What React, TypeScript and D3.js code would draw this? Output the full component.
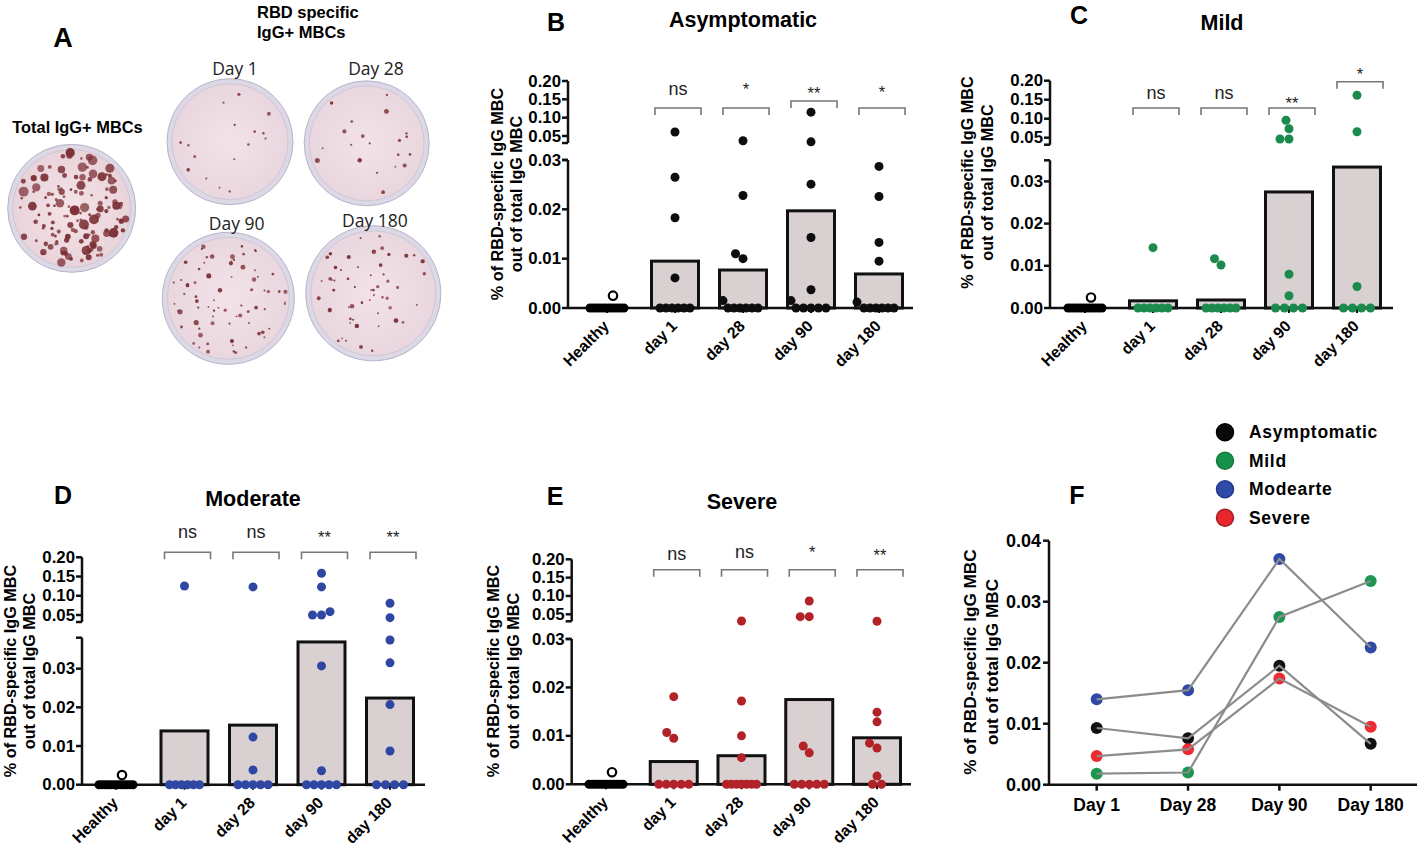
import React from 'react'
import * as d3 from 'd3'

// ---- data ----
const groups = ['Healthy', 'day 1', 'day 28', 'day 90', 'day 180']
const healthyPoints = [0, 0, 0, 0, 0, 0, 0, 0, 0, 0, 0, 0]
const healthyOpen = 0.0025

const lowerTicks = [0, 0.01, 0.02, 0.03]
const upperTicks = [0.05, 0.1, 0.15, 0.2]

const asymBars = [0, 0.0095, 0.0077, 0.0197, 0.0069]
const asymPoints = [
  healthyPoints,
  [0.061, 0.0265, 0.0183, 0.0061, 0, 0, 0, 0, 0, 0],
  [0.037, 0.0228, 0.011, 0.01, 0.0015, 0, 0, 0, 0, 0, 0],
  [0.115, 0.034, 0.0251, 0.0143, 0.0037, 0.0015, 0, 0, 0, 0, 0],
  [0.0287, 0.0226, 0.0133, 0.0095, 0.0012, 0, 0, 0, 0, 0, 0]
]
const asymSig = ['ns', '*', '**', '*']

const mildBars = [0, 0.0017, 0.0019, 0.0275, 0.0334]
const mildPoints = [
  healthyPoints,
  [0.0143, 0, 0, 0, 0, 0, 0],
  [0.0117, 0.0102, 0, 0, 0, 0, 0, 0],
  [0.0958, 0.0737, 0.0466, 0.0466, 0.008, 0.0029, 0, 0, 0, 0],
  [0.1616, 0.0658, 0.0051, 0, 0, 0, 0]
]
const mildSig = ['ns', 'ns', '**', '*']

const modBars = [0, 0.0139, 0.0154, 0.0369, 0.0224]
const modPoints = [
  healthyPoints,
  [0.1255, 0, 0, 0, 0, 0, 0],
  [0.123, 0.0123, 0.0038, 0, 0, 0, 0, 0],
  [0.1586, 0.123, 0.0586, 0.05, 0.05, 0.0307, 0.0036, 0, 0, 0, 0, 0],
  [0.0805, 0.043, 0.0374, 0.0315, 0.0207, 0.0087, 0, 0, 0, 0]
]
const modSig = ['ns', 'ns', '**', '**']

const sevBars = [0, 0.0047, 0.0059, 0.0175, 0.0096]
const sevPoints = [
  healthyPoints,
  [0.0181, 0.0107, 0.0095, 0, 0, 0, 0, 0],
  [0.0317, 0.0172, 0.01, 0.0055, 0, 0, 0, 0, 0, 0, 0],
  [0.0863, 0.0435, 0.0435, 0.0079, 0.0065, 0, 0, 0, 0, 0],
  [0.031, 0.0149, 0.0129, 0.0085, 0.0075, 0.0017, 0, 0]
]
const sevSig = ['ns', 'ns', '*', '**']

const fDays = ['Day 1', 'Day 28', 'Day 90', 'Day 180']
const fTicks = [0, 0.01, 0.02, 0.03, 0.04]
const fAsym = [0.0093, 0.0076, 0.0195, 0.0067]
const fMild = [0.0018, 0.002, 0.0275, 0.0334]
const fMod = [0.014, 0.0155, 0.037, 0.0225]
const fSev = [0.0047, 0.0058, 0.0174, 0.0095]
const fNames = ['Asymptomatic', 'Mild', 'Modearte', 'Severe']

const FONT = '"Liberation Sans", Arial, sans-serif'
const AXIS = '#111'
const BAR_FILL = '#d9d1d1'

// simple dot swarm, zeros in a packed row, others dodge sideways
function swarm(values: number[], cx: number, yOf: (v: number) => number, r: number, zeroSpan: number) {
  const zeros = values.filter(v => v === 0)
  const rest = values.filter(v => v > 0).sort((a, b) => a - b)
  const placed: { x: number; y: number }[] = []
  const n = zeros.length
  const sp = n > 1 ? Math.min(2 * r, zeroSpan / (n - 1)) : 0
  zeros.forEach((_, i) => placed.push({ x: cx + (i - (n - 1) / 2) * sp, y: yOf(0) }))
  const dmin = 2 * r * 0.98
  rest.forEach(v => {
    const y = yOf(v)
    for (let k = 0; k < 400; k++) {
      const off = (k % 2 === 1 ? -1 : 1) * Math.ceil(k / 2) * 0.5
      const x = cx + off
      if (placed.every(p => (p.x - x) ** 2 + (p.y - y) ** 2 >= dmin * dmin)) {
        placed.push({ x, y })
        break
      }
    }
  })
  return placed
}

interface PanelCfg {
  letter: string
  letterPos: [number, number]
  title: string
  titlePos: [number, number]
  xRange: [number, number]
  axisX: number
  axisEnd: number
  y0: number
  lowTop: number
  lowMax: number
  y05: number
  y20: number
  bracketY: number[]
  sigY: number[]
  yLabelX: [number, number]
  yLabelCy: number
  color: string
  bars: number[]
  points: number[][]
  sig: string[]
}

const BarPanel: React.FC<{ cfg: PanelCfg }> = ({ cfg }) => {
  const x = d3.scalePoint<string>().domain(groups).range(cfg.xRange)
  const low = d3.scaleLinear().domain([0, cfg.lowMax]).range([cfg.y0, cfg.lowTop])
  const up = d3.scaleLinear().domain([0.05, 0.2]).range([cfg.y05, cfg.y20])
  const yOf = (v: number) => (v <= cfg.lowMax ? low(v) : up(v))
  const breakY = cfg.y05 + 7
  const r = 4.5
  const barW = 47

  return (
    <g fontFamily={FONT}>
      <text x={cfg.letterPos[0]} y={cfg.letterPos[1]} fontSize={25} fontWeight="bold" textAnchor="middle" dominantBaseline="central">{cfg.letter}</text>
      <text x={cfg.titlePos[0]} y={cfg.titlePos[1]} fontSize={21.5} fontWeight="bold" textAnchor="middle" dominantBaseline="central">{cfg.title}</text>

      {/* y label */}
      <text transform={`translate(${cfg.yLabelX[0]},${cfg.yLabelCy}) rotate(-90)`} fontSize={16.2} fontWeight="bold" textAnchor="middle" dominantBaseline="central">% of RBD-specific IgG MBC</text>
      <text transform={`translate(${cfg.yLabelX[1]},${cfg.yLabelCy}) rotate(-90)`} fontSize={16.2} fontWeight="bold" textAnchor="middle" dominantBaseline="central">out of total IgG MBC</text>

      {/* bars */}
      {groups.map((g, i) => i > 0 && (
        <rect key={g} x={x(g)! - barW / 2} y={low(cfg.bars[i])} width={barW} height={cfg.y0 - low(cfg.bars[i])}
          fill={BAR_FILL} stroke={AXIS} strokeWidth={3} />
      ))}

      {/* axes */}
      <line x1={cfg.axisX} x2={cfg.axisX} y1={cfg.y0} y2={cfg.lowTop} stroke={AXIS} strokeWidth={2.5} />
      <line x1={cfg.axisX - 6} x2={cfg.axisX} y1={cfg.lowTop} y2={cfg.lowTop} stroke={AXIS} strokeWidth={2.5} />
      <line x1={cfg.axisX} x2={cfg.axisX} y1={breakY} y2={cfg.y20} stroke={AXIS} strokeWidth={2.5} />
      <line x1={cfg.axisX - 6} x2={cfg.axisX} y1={breakY} y2={breakY} stroke={AXIS} strokeWidth={2.5} />
      {lowerTicks.map(t => (
        <g key={'l' + t}>
          <line x1={cfg.axisX - 6} x2={cfg.axisX} y1={low(t)} y2={low(t)} stroke={AXIS} strokeWidth={2.5} />
          <text x={cfg.axisX - 7} y={low(t)} fontSize={16.8} fontWeight="bold" textAnchor="end" dominantBaseline="central">{t.toFixed(2)}</text>
        </g>
      ))}
      {upperTicks.map(t => (
        <g key={'u' + t}>
          <line x1={cfg.axisX - 6} x2={cfg.axisX} y1={up(t)} y2={up(t)} stroke={AXIS} strokeWidth={2.5} />
          <text x={cfg.axisX - 7} y={up(t)} fontSize={16.8} fontWeight="bold" textAnchor="end" dominantBaseline="central">{t.toFixed(2)}</text>
        </g>
      ))}
      <line x1={cfg.axisX} x2={cfg.axisEnd} y1={cfg.y0} y2={cfg.y0} stroke={AXIS} strokeWidth={2.5} />
      {groups.map(g => (
        <g key={'x' + g}>
          <line x1={x(g)} x2={x(g)} y1={cfg.y0} y2={cfg.y0 + 5} stroke={AXIS} strokeWidth={2} />
          <text transform={`translate(${x(g)! + 3},${cfg.y0 + 19}) rotate(-45)`} fontSize={15.8} fontWeight="bold" textAnchor="end">{g}</text>
        </g>
      ))}

      {/* points */}
      {groups.map((g, i) => {
        const pts = swarm(cfg.points[i], x(g)!, yOf, r, i === 0 ? 34 : 30)
        const fill = i === 0 ? '#000' : cfg.color
        return (
          <g key={'p' + g}>
            {pts.map((p, j) => <circle key={j} cx={p.x} cy={p.y} r={r} fill={fill} />)}
          </g>
        )
      })}
      <circle cx={x('Healthy')! + 6} cy={low(healthyOpen)} r={4.2} fill="#fff" stroke="#000" strokeWidth={2.2} />

      {/* significance brackets */}
      {groups.slice(1).map((g, i) => {
        const cx = x(g)! + 3
        const by = cfg.bracketY[i]
        const s = cfg.sig[i]
        const base = s === 'ns' ? cfg.sigY[i] + 5 : cfg.sigY[i] + 9.5
        return (
          <g key={'s' + g}>
            <path d={`M${cx - 23},${by + 7}V${by}H${cx + 23}V${by + 7}`} fill="none" stroke="#777" strokeWidth={1.6} />
            <text x={cx} y={base} fontSize={s === 'ns' ? 18 : 16.5} textAnchor="middle" fill="#222">{s}</text>
          </g>
        )
      })}
    </g>
  )
}

const panels: PanelCfg[] = [
  {
    letter: 'B', letterPos: [556, 22], title: 'Asymptomatic', titlePos: [743, 20],
    xRange: [607, 879], axisX: 568, axisEnd: 913, y0: 308, lowTop: 160, lowMax: 0.03, y05: 136, y20: 81,
    bracketY: [108, 108, 101, 108], sigY: [90, 85, 89, 88], yLabelX: [497, 516], yLabelCy: 194,
    color: '#0d0d0d', bars: asymBars, points: asymPoints, sig: asymSig
  },
  {
    letter: 'C', letterPos: [1079, 15], title: 'Mild', titlePos: [1222, 23],
    xRange: [1085, 1357], axisX: 1050, axisEnd: 1393, y0: 308, lowTop: 160.3, lowMax: 0.035, y05: 137.7, y20: 80.7,
    bracketY: [108, 108, 108, 81.7], sigY: [94, 94, 99, 70], yLabelX: [967, 987], yLabelCy: 182.5,
    color: '#1b8a4c', bars: mildBars, points: mildPoints, sig: mildSig
  },
  {
    letter: 'D', letterPos: [63, 495], title: 'Moderate', titlePos: [253, 499],
    xRange: [116, 390], axisX: 82, axisEnd: 425, y0: 784.7, lowTop: 637.7, lowMax: 0.038, y05: 615, y20: 557.3,
    bracketY: [552.3, 552.3, 552.3, 552.3], sigY: [533.3, 533.3, 533.3, 533.3], yLabelX: [10, 29], yLabelCy: 671,
    color: '#2f47a3', bars: modBars, points: modPoints, sig: modSig
  },
  {
    letter: 'E', letterPos: [555, 496], title: 'Severe', titlePos: [742, 502],
    xRange: [606, 877], axisX: 571.7, axisEnd: 911, y0: 784.3, lowTop: 639, lowMax: 0.03, y05: 614.3, y20: 559.3,
    bracketY: [569.7, 569.7, 569.7, 569.7], sigY: [555, 553.3, 548.3, 551.7], yLabelX: [493, 513], yLabelCy: 671,
    color: '#b22229', bars: sevBars, points: sevPoints, sig: sevSig
  }
]

const LinePanel: React.FC = () => {
  const x = d3.scalePoint<string>().domain(fDays).range([1096.7, 1370.7])
  const y = d3.scaleLinear().domain([0, 0.04]).range([784.7, 540.7])
  const axisX = 1049
  const series = [
    { name: fNames[0], values: fAsym, color: '#111', legend: '#0a0a0a', rim: '#000' },
    { name: fNames[1], values: fMild, color: '#1c9650', legend: '#17924c', rim: '#107a3c' },
    { name: fNames[2], values: fMod, color: '#3049a6', legend: '#2f4aa8', rim: '#22398a' },
    { name: fNames[3], values: fSev, color: '#ee2b30', legend: '#e8282e', rim: '#a01c22' }
  ]
  const line = d3.line<number>().x((_, i) => x(fDays[i])!).y(d => y(d))
  const legendY = d3.scalePoint<string>().domain(fNames).range([432.3, 517.7])
  return (
    <g fontFamily={FONT}>
      <text x={1077} y={495} fontSize={25} fontWeight="bold" textAnchor="middle" dominantBaseline="central">F</text>
      {series.map(s => (
        <g key={'lg' + s.name}>
          <circle cx={1225} cy={legendY(s.name)} r={8.5} fill={s.legend} stroke={s.rim} strokeWidth={1.5} />
          <text x={1249} y={legendY(s.name)} fontSize={17.5} fontWeight="bold" letterSpacing={0.7} dominantBaseline="central">{s.name}</text>
        </g>
      ))}
      <text transform={`translate(970,662) rotate(-90)`} fontSize={17.2} fontWeight="bold" textAnchor="middle" dominantBaseline="central">% of RBD-specific IgG MBC</text>
      <text transform={`translate(991.5,662) rotate(-90)`} fontSize={17.2} fontWeight="bold" textAnchor="middle" dominantBaseline="central">out of total IgG MBC</text>

      <line x1={axisX} x2={axisX} y1={y(0)} y2={y(0.04)} stroke={AXIS} strokeWidth={2.5} />
      {fTicks.map(t => (
        <g key={t}>
          <line x1={axisX - 6} x2={axisX} y1={y(t)} y2={y(t)} stroke={AXIS} strokeWidth={2.5} />
          <text x={axisX - 8} y={y(t)} fontSize={18} fontWeight="bold" textAnchor="end" dominantBaseline="central">{t.toFixed(2)}</text>
        </g>
      ))}
      <line x1={axisX} x2={1417} y1={y(0)} y2={y(0)} stroke={AXIS} strokeWidth={2.5} />
      {fDays.map(d => (
        <g key={d}>
          <line x1={x(d)} x2={x(d)} y1={y(0)} y2={y(0) + 6} stroke={AXIS} strokeWidth={2.5} />
          <text x={x(d)} y={805} fontSize={17.5} fontWeight="bold" textAnchor="middle" dominantBaseline="central">{d}</text>
        </g>
      ))}
      {series.map(s => (
        <g key={'pt' + s.name}>
          {s.values.map((v, i) => <circle key={i} cx={x(fDays[i])} cy={y(v)} r={6} fill={s.color} />)}
        </g>
      ))}
      {series.map(s => (
        <path key={'ln' + s.name} d={line(s.values)!} fill="none" stroke="#8c8c8c" strokeWidth={2.2} />
      ))}
    </g>
  )
}

// ---- panel A: imitation of the ELISpot well photographs ----
interface Dish { id: string; cx: number; cy: number; r: number; n: number; sMin: number; sMax: number; seed: number }
const dishes: Dish[] = [
  { id: 'total', cx: 71.7, cy: 208.3, r: 64, n: 130, sMin: 1.3, sMax: 5, seed: 0.11 },
  { id: 'd1', cx: 230, cy: 141.7, r: 63, n: 16, sMin: 1, sMax: 2.2, seed: 0.23 },
  { id: 'd28', cx: 366.7, cy: 143.3, r: 62.5, n: 20, sMin: 1, sMax: 2.6, seed: 0.37 },
  { id: 'd90', cx: 228.3, cy: 298.3, r: 66, n: 75, sMin: 0.9, sMax: 2.6, seed: 0.41 },
  { id: 'd180', cx: 373.3, cy: 293.3, r: 67.5, n: 55, sMin: 0.9, sMax: 2.4, seed: 0.53 }
]
const dishLabels = ['Day 1', 'Day 28', 'Day 90', 'Day 180']
const dishLabelPos: [number, number][] = [[235, 68], [376, 68], [236.7, 223.3], [375, 220]]

const DishPhoto: React.FC<{ d: Dish }> = ({ d }) => {
  // texture only: deterministic spot pattern
  const rnd = d3.randomLcg(d.seed)
  const inner = d.r - 5
  const spots = d3.range(d.n).map(() => {
    const a = rnd() * Math.PI * 2
    const rr = (inner - 3) * Math.sqrt(rnd())
    const s = d.sMin + (d.sMax - d.sMin) * rnd() ** 2
    return { x: d.cx + rr * Math.cos(a), y: d.cy + rr * Math.sin(a), s, o: 0.7 + 0.28 * rnd() }
  })
  return (
    <g>
      <circle cx={d.cx} cy={d.cy} r={d.r} fill="#dcd8e6" stroke="#b8b3c8" strokeWidth={1} />
      <circle cx={d.cx} cy={d.cy} r={inner} fill={`url(#grad-${d.id})`} stroke="#c9c2d3" strokeWidth={0.8} />
      <g filter="url(#soft)">
        {spots.map((p, i) => <circle key={i} cx={p.x} cy={p.y} r={p.s} fill="#7c3035" opacity={p.o} />)}
      </g>
    </g>
  )
}

const PanelA: React.FC = () => (
  <g fontFamily={FONT}>
    <defs>
      {dishes.map(d => (
        <radialGradient key={d.id} id={`grad-${d.id}`}>
          <stop offset="0%" stopColor={d.id === 'total' ? '#f4e3e7' : '#f3e3e9'} />
          <stop offset="100%" stopColor={d.id === 'total' ? '#e9d3da' : '#e9d6de'} />
        </radialGradient>
      ))}
      <filter id="soft" x="-10%" y="-10%" width="120%" height="120%">
        <feGaussianBlur stdDeviation={0.6} />
      </filter>
    </defs>
    <text x={63} y={38} fontSize={27} fontWeight="bold" textAnchor="middle" dominantBaseline="central">A</text>
    <text x={257} y={11.7} fontSize={16.5} fontWeight="bold" dominantBaseline="central">RBD specific</text>
    <text x={257} y={31.7} fontSize={16.5} fontWeight="bold" dominantBaseline="central">IgG+ MBCs</text>
    <text x={77.5} y={126.7} fontSize={16.4} fontWeight="bold" textAnchor="middle" dominantBaseline="central">Total IgG+ MBCs</text>
    {dishes.map(d => <DishPhoto key={d.id} d={d} />)}
    {dishLabels.map((l, i) => (
      <text key={l} x={dishLabelPos[i][0]} y={dishLabelPos[i][1]} fontFamily='"Open Sans", sans-serif' fontSize={17.5} fill="#222" textAnchor="middle" dominantBaseline="central">{l}</text>
    ))}
  </g>
)

export default function App() {
  return (
    <svg width={1417} height={846} style={{ position: 'absolute', left: 0, top: 0, background: '#fff' }}>
      <rect width={1417} height={846} fill="#fff" />
      <PanelA />
      {panels.map(p => <BarPanel key={p.letter} cfg={p} />)}
      <LinePanel />
    </svg>
  )
}
